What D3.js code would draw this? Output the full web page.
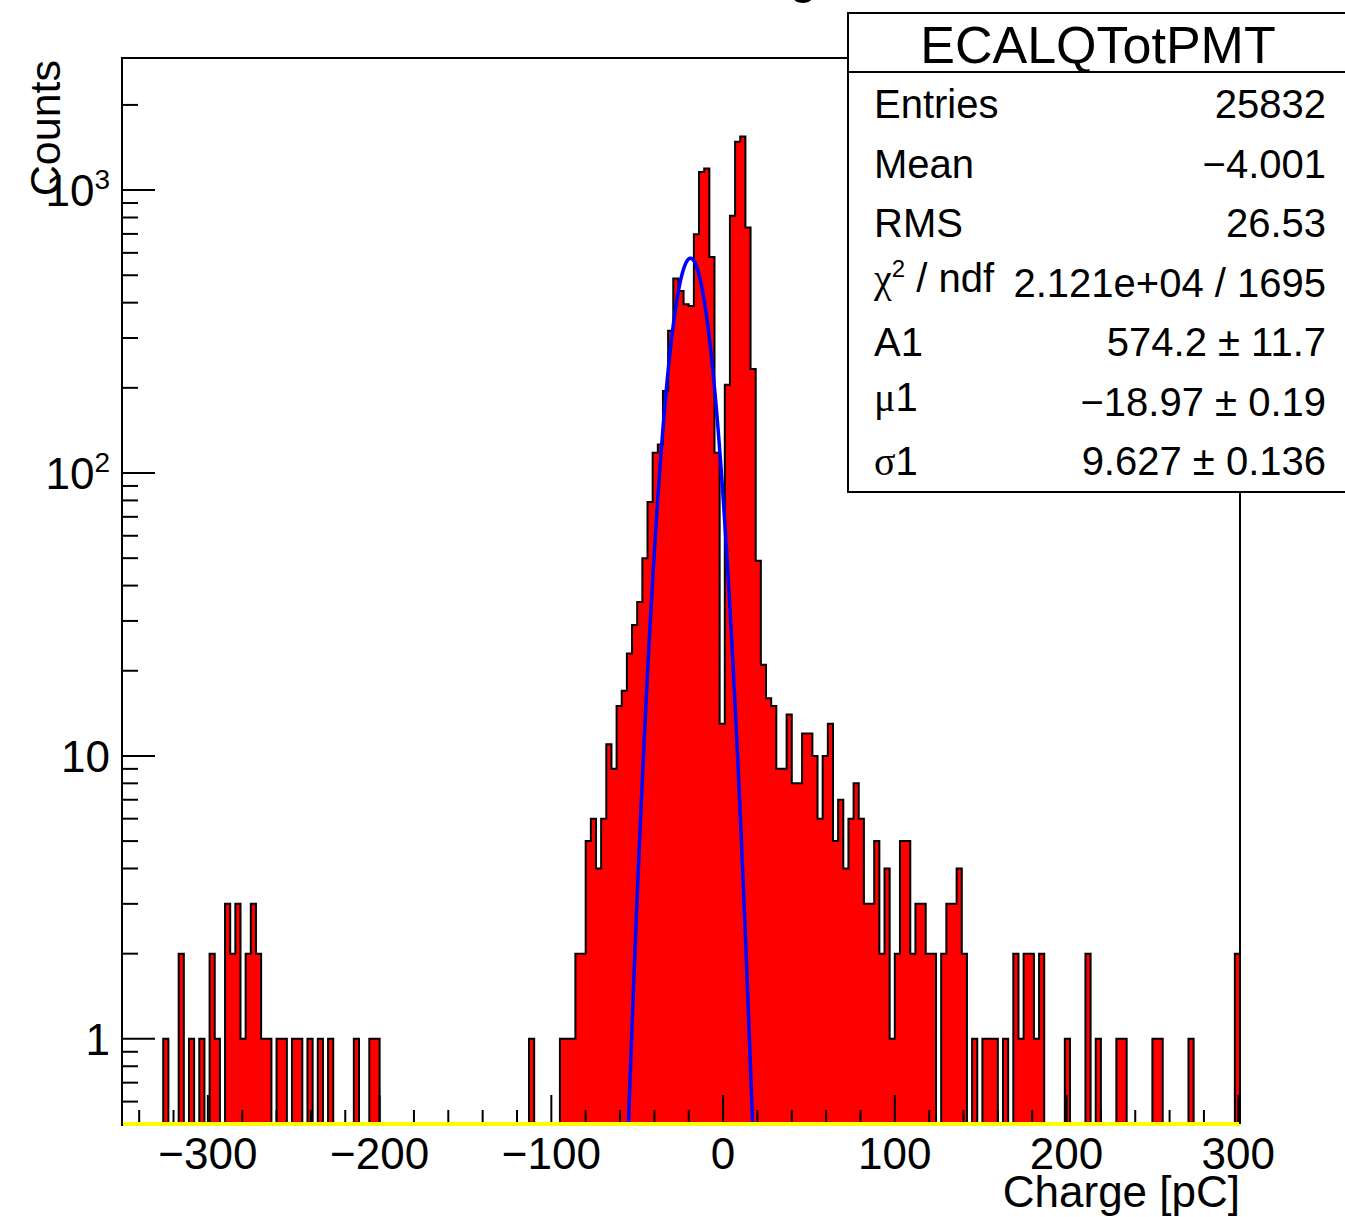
<!DOCTYPE html>
<html>
<head>
<meta charset="utf-8">
<script src="https://cdn.jsdelivr.net/npm/d3@7/dist/d3.min.js"></script>
<style>
  body { margin: 0; background: #fff; }
  text { font-family: "Liberation Sans", Arial, Helvetica, sans-serif; fill: #000; }
  .greek { font-family: "Liberation Serif", "Times New Roman", serif; }
</style>
</head>
<body>
<div class="chart"></div>
<script>
// histogram binning (pC) and bin contents
var binLow = -350;
var binWidth = 3;
var counts = [
  0, 0, 0, 0, 0, 0, 0, 0, 1, 0,
  0, 2, 0, 1, 0, 1, 0, 2, 1, 0,
  3, 2, 3, 1, 2, 3, 2, 1, 1, 0,
  1, 1, 0, 1, 1, 0, 1, 0, 1, 0,
  1, 0, 0, 0, 0, 1, 0, 0, 1, 1,
  0, 0, 0, 0, 0, 0, 0, 0, 0, 0,
  0, 0, 0, 0, 0, 0, 0, 0, 0, 0,
  0, 0, 0, 0, 0, 0, 0, 0, 0, 1,
  0, 0, 0, 0, 0, 1, 1, 1, 2, 2,
  5, 6, 4, 6, 11, 9, 15, 17, 23, 29,
  35, 50, 79, 118, 126, 195, 318, 487, 440, 395,
  389, 698, 1159, 1192, 580, 118, 13, 205, 811, 1482,
  1548, 738, 233, 49, 21, 16, 15, 9, 9, 14,
  8, 8, 12, 12, 10, 6, 10, 13, 5, 7,
  4, 6, 8, 6, 3, 3, 5, 2, 4, 1,
  2, 5, 5, 2, 3, 3, 2, 2, 0, 2,
  3, 3, 4, 2, 0, 1, 0, 1, 1, 1,
  0, 1, 0, 2, 1, 2, 2, 1, 2, 0,
  0, 0, 0, 1, 0, 0, 0, 2, 0, 1,
  0, 0, 0, 1, 1, 0, 0, 0, 0, 0,
  1, 1, 0, 0, 0, 0, 0, 1, 0, 0,
  0, 0, 0, 0, 0, 0, 2
];

var xDomain = [-350, 301];
var yDomain = [0.5, 2930];
var xLabelTicks = [-300, -200, -100, 0, 100, 200, 300];
var yDecades = [1, 10, 100, 1000];
var yDecadeExp = ["", "", "2", "3"];

// fit: A1, mu1, sigma1
var fitParams = [574.2, -18.97, 9.627];

var statNames = ["Entries", "Mean", "RMS", "chi", "A1", "mu", "sigma"];
var statValues = ["25832", "\u22124.001", "26.53", "2.121e+04 / 1695",
  "574.2 \u00b1 11.7", "\u221218.97 \u00b1 0.19", "9.627 \u00b1 0.136"];

var svgWidth = 1345;
var svgHeight = 1217;
var frame = { left: 122, top: 58, right: 1240, bottom: 1124 };

var svg = d3.select(".chart")
  .append("svg")
  .attr("width", svgWidth)
  .attr("height", svgHeight);

var xScale = d3.scaleLinear().domain(xDomain).range([frame.left, frame.right]);
var yScale = d3.scaleLog().domain(yDomain).range([frame.bottom, frame.top]).clamp(true);

svg.append("clipPath").attr("id", "frameClip")
  .append("rect")
  .attr("x", frame.left).attr("y", frame.top)
  .attr("width", frame.right - frame.left)
  .attr("height", frame.bottom - frame.top);

// cut-off title, only the descender shows
svg.append("text")
  .attr("x", 681)
  .attr("y", -7.5)
  .style("font-size", "50px")
  .text("Charge");

// histogram outline points
var pts = [];
counts.forEach(function(c, i) {
  var lo = binLow + i * binWidth;
  var v = Math.max(c, yDomain[0]);
  pts.push([xScale(lo), yScale(v)]);
  pts.push([xScale(lo + binWidth), yScale(v)]);
});
var xEnd = binLow + counts.length * binWidth;
var fillPts = [[xScale(binLow), frame.bottom]].concat(pts).concat([[xScale(xEnd), frame.bottom]]);

var plot = svg.append("g").attr("clip-path", "url(#frameClip)");

plot.append("path")
  .attr("d", d3.line()(fillPts) + "Z")
  .attr("fill", "#ff0000")
  .attr("stroke", "none");

plot.append("path")
  .attr("d", d3.line()(fillPts))
  .attr("fill", "none")
  .attr("stroke", "#000")
  .attr("stroke-width", 2)
  .attr("stroke-linejoin", "miter");

// gaussian fit curve
var fitPts = [];
for (var xv = fitParams[1] - 4 * fitParams[2]; xv <= fitParams[1] + 4 * fitParams[2]; xv += 0.2) {
  var z = (xv - fitParams[1]) / fitParams[2];
  fitPts.push([xv, fitParams[0] * Math.exp(-0.5 * z * z)]);
}
plot.append("path")
  .attr("d", d3.line()
    .x(function(d) { return xScale(d[0]); })
    .y(function(d) { return yScale.copy().clamp(false)(Math.max(d[1], 0.01)); })(fitPts))
  .attr("fill", "none")
  .attr("stroke", "#0000ff")
  .attr("stroke-width", 3.5);

// x ticks, pointing up from the bottom
var xTicks = d3.range(-340, 301, 20);
svg.append("g").selectAll("line")
  .data(xTicks)
  .enter()
  .append("line")
  .attr("x1", function(d) { return xScale(d); })
  .attr("x2", function(d) { return xScale(d); })
  .attr("y1", frame.bottom)
  .attr("y2", function(d) { return frame.bottom - (d % 100 === 0 ? 29 : 14); })
  .attr("stroke", "#000")
  .attr("stroke-width", 2);

svg.append("g").selectAll("text")
  .data(xLabelTicks)
  .enter()
  .append("text")
  .attr("x", function(d) { return xScale(d); })
  .attr("y", 1169)
  .attr("text-anchor", "middle")
  .style("font-size", "44px")
  .text(function(d) { return d < 0 ? "\u2212" + Math.abs(d) : d; });

// y ticks (log)
var yTicks = [];
[0.1, 1, 10, 100, 1000].forEach(function(dec) {
  for (var m = 1; m <= 9; m++) {
    var v = dec * m;
    if (v >= yDomain[0] && v <= yDomain[1]) yTicks.push({ v: v, major: m === 1 });
  }
});
svg.append("g").selectAll("line")
  .data(yTicks)
  .enter()
  .append("line")
  .attr("x1", frame.left)
  .attr("x2", function(d) { return frame.left + (d.major ? 33 : 16); })
  .attr("y1", function(d) { return yScale(d.v); })
  .attr("y2", function(d) { return yScale(d.v); })
  .attr("stroke", "#000")
  .attr("stroke-width", 2);

var yLab = svg.append("g").selectAll("text")
  .data(yDecades)
  .enter()
  .append("text")
  .attr("x", 110)
  .attr("y", function(d) { return yScale(d) + 16; })
  .attr("text-anchor", "end")
  .style("font-size", "44px");
yLab.append("tspan").text(function(d, i) { return d === 1 ? "1" : "10"; });
yLab.append("tspan")
  .attr("dy", -17)
  .style("font-size", "28px")
  .text(function(d, i) { return yDecadeExp[i]; });

// yellow line along the x axis
svg.append("line")
  .attr("x1", frame.left).attr("x2", frame.right)
  .attr("y1", frame.bottom).attr("y2", frame.bottom)
  .attr("stroke", "#ffff00")
  .attr("stroke-width", 4);

// frame
svg.append("path")
  .attr("d", "M" + frame.left + "," + (frame.bottom + 2) + "V" + frame.top + "H" + frame.right + "V" + frame.bottom)
  .attr("fill", "none")
  .attr("stroke", "#000")
  .attr("stroke-width", 2);

// axis titles
svg.append("text")
  .attr("x", frame.right)
  .attr("y", 1207)
  .attr("text-anchor", "end")
  .style("font-size", "44px")
  .text("Charge [pC]");

svg.append("text")
  .attr("transform", "translate(60," + (frame.top + 2) + ") rotate(-90)")
  .attr("text-anchor", "end")
  .style("font-size", "43px")
  .text("Counts");

// stats box
var box = svg.append("g");
box.append("rect")
  .attr("x", 848).attr("y", 13)
  .attr("width", 520).attr("height", 479)
  .attr("fill", "#fff")
  .attr("stroke", "#000")
  .attr("stroke-width", 2);
box.append("line")
  .attr("x1", 848).attr("x2", 1345)
  .attr("y1", 72).attr("y2", 72)
  .attr("stroke", "#000")
  .attr("stroke-width", 2);
box.append("text")
  .attr("x", 1098).attr("y", 63)
  .attr("text-anchor", "middle")
  .style("font-size", "52px")
  .text("ECALQTotPMT");

var rowY = d3.scaleLinear().domain([0, 6]).range([118, 475]);

statNames.forEach(function(name, i) {
  var t = box.append("text")
    .attr("x", 874)
    .attr("y", rowY(i) - (name === "chi" || name === "mu" ? 5 : 0))
    .style("font-size", "40px");
  if (name === "chi") {
    t.append("tspan").attr("class", "greek").text("\u03c7");
    t.append("tspan").attr("dy", -15).style("font-size", "24px").text("2");
    t.append("tspan").attr("dy", 15).text(" / ndf");
  } else if (name === "mu") {
    t.append("tspan").attr("class", "greek").text("\u03bc");
    t.append("tspan").text("1");
  } else if (name === "sigma") {
    t.append("tspan").attr("class", "greek").text("\u03c3");
    t.append("tspan").text("1");
  } else {
    t.text(name);
  }
  box.append("text")
    .attr("x", 1326)
    .attr("y", rowY(i))
    .attr("text-anchor", "end")
    .style("font-size", "40px")
    .text(statValues[i]);
});
</script>
</body>
</html>
